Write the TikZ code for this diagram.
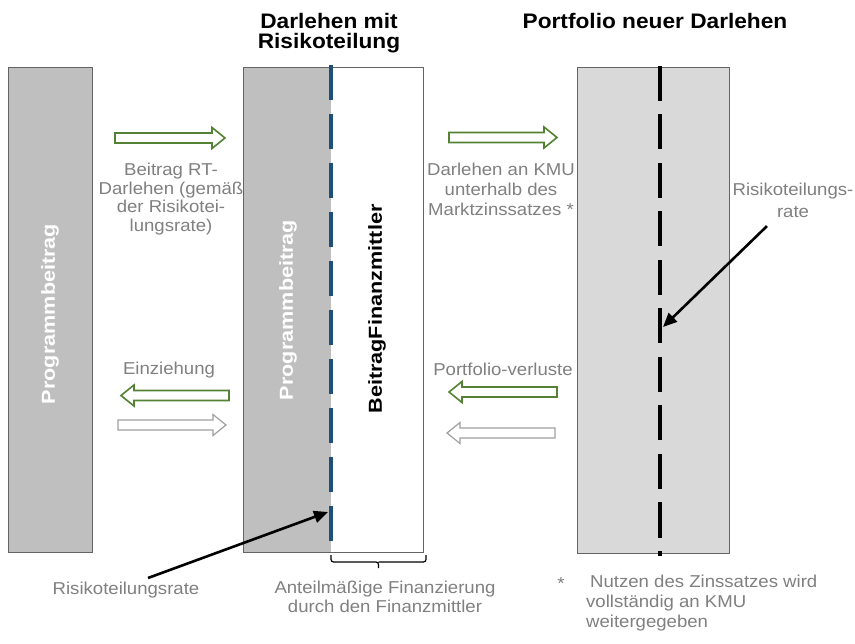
\documentclass[tikz,border=0pt]{standalone}
\usepackage{fontspec}
\setmainfont[FakeStretch=1.08]{Liberation Sans}
\newfontfamily\vfont[FakeStretch=1.15]{Liberation Sans}
\usetikzlibrary{arrows.meta}
\definecolor{dkgreen}{RGB}{84,130,53}
\definecolor{dashblue}{RGB}{31,78,121}
\definecolor{midgray}{RGB}{191,191,191}
\definecolor{lightgray}{RGB}{217,217,217}
\definecolor{bordergray}{RGB}{100,100,100}
\definecolor{txtgray}{RGB}{128,128,128}
\definecolor{outlinegray}{RGB}{160,160,160}
\newcommand\barrowR[4]{\draw[#1] (#2,#4-5) -- (#3-13,#4-5) -- (#3-13,#4-10.5) -- (#3,#4) -- (#3-13,#4+10.5) -- (#3-13,#4+5) -- (#2,#4+5) -- cycle;}
\newcommand\barrowL[4]{\draw[#1] (#3,#4-5) -- (#2+13,#4-5) -- (#2+13,#4-10.5) -- (#2,#4) -- (#2+13,#4+10.5) -- (#2+13,#4+5) -- (#3,#4+5) -- cycle;}
\tikzset{
  panel/.style={rectangle, inner sep=0pt, anchor=north west, line width=1pt},
  lbl/.style={inner sep=0pt, anchor=north, align=center, text=txtgray, font=\fontsize{17.2}{20}\selectfont},
  lbltight/.style={lbl, font=\fontsize{17.2}{18.5}\selectfont},
  heading/.style={inner sep=0pt, anchor=north, align=center, font=\fontsize{21}{20.5}\selectfont\bfseries},
  vtext/.style={inner sep=0pt, rotate=90, font=\vfont\fontsize{18.8}{20}\selectfont\bfseries},
  garrow/.style={draw=dkgreen, fill=white, line width=1.6pt, line join=miter},
  warrow/.style={draw=outlinegray, fill=white, line width=1.2pt, line join=miter},
  ptr/.style={line width=2.6pt, -{Triangle[length=14pt,width=12pt]}},
}
\begin{document}
\begin{tikzpicture}[x=1pt,y=-1pt]
\useasboundingbox[fill=white] (0,0) rectangle (855,644);
% panels
\node[panel, fill=midgray, draw=bordergray, minimum width=84pt, minimum height=485pt] (lb) at (8,67) {};
\node[panel, fill=midgray, minimum width=87pt, minimum height=485pt] (mg) at (243,67) {};
\node[panel, fill=white, minimum width=93pt, minimum height=485pt] (mw) at (330,67) {};
\node[panel, draw=bordergray, minimum width=180pt, minimum height=485pt] (mb) at (243,67) {};
\node[panel, fill=lightgray, draw=bordergray, minimum width=152pt, minimum height=486pt] (rb) at (577,67) {};
% dashed lines
\draw[dashblue, line width=4pt, dash pattern=on 35pt off 14pt] ([yshift=2pt]mg.north east) -- ([yshift=-1pt]mg.south east);
\draw[black, line width=4pt, dash pattern=on 35pt off 13.5pt] ([xshift=6pt,yshift=1pt]rb.north) -- ([xshift=6pt,yshift=-2pt]rb.south);
% vertical texts
\node[vtext, text=white] (t1) at (50,314) {Programmbeitrag};
\node[vtext, text=white] (t2) at (288,310) {Programmbeitrag};
\node[vtext, text=black] (t3) at (377,309) {BeitragFinanzmittler};
% headings
\node[heading] (h1) at (329,13) {Darlehen mit\\Risikoteilung};
\node[heading] (h2) at (655,13) {Portfolio neuer Darlehen};
% block arrows
\barrowR{garrow}{115}{225}{138}
\barrowR{garrow}{449}{557}{137.5}
\barrowL{garrow}{121}{229}{395.5}
\barrowR{warrow}{118}{226}{425}
\barrowL{garrow}{449}{557}{392}
\barrowL{warrow}{447}{555}{433}
% labels
\node[lbltight] (l1) at (171,163) {Beitrag RT-\\Darlehen (gemäß\\der Risikotei-\\lungsrate)};
\node[lbl] (l2) at (501,163) {Darlehen an KMU\\unterhalb des\\Marktzinssatzes *};
\node[lbl] (l3) at (169,362) {Einziehung};
\node[lbl] (l4) at (503,363) {Portfolio-verluste};
\node[lbl] (rtlab) at (126,582) {Risikoteilungsrate};
\node[lbltight] (l5) at (385,581) {Anteilmäßige Finanzierung\\durch den Finanzmittler};
\node[lbl] (star) at (561,577) {*};
\node[lbl, anchor=north west, align=left] (l6) at (586,575) {\hspace*{4pt}Nutzen des Zinssatzes wird\\vollständig an KMU\\weitergegeben};
\node[lbl, font=\fontsize{17.2}{22}\selectfont] (rtr) at (793,183) {Risikoteilungs-\\rate};
% brace
\draw[black, line width=1.2pt, rounded corners=2.5pt] (331,555) |- (378.5,562) -- (378.5,568) (378.5,562) -| (426,555);
% pointer arrows
\coordinate (rtl) at (328,512);
\coordinate (rtr-end) at (663,327);
\draw[ptr] ([xshift=22pt,yshift=4pt]rtlab.north) -- (rtl);
\draw[ptr] ([xshift=-26pt,yshift=-8pt]rtr.south) -- (rtr-end);
\end{tikzpicture}
\end{document}
